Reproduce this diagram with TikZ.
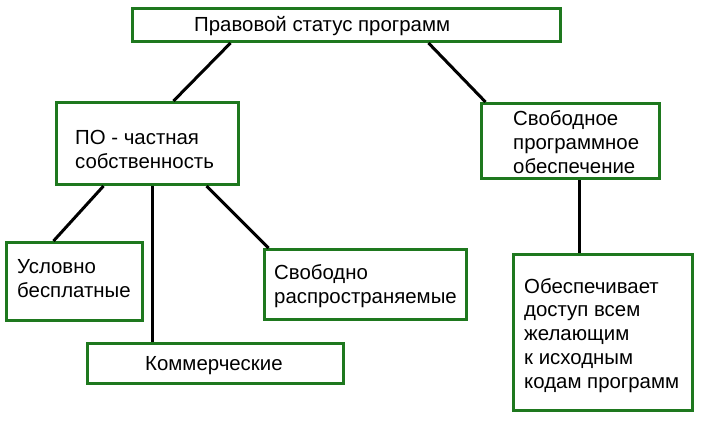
\documentclass[tikz,border=0pt]{standalone}
\usepackage{fontspec}
\setmainfont{Liberation Sans}
\usetikzlibrary{positioning}
\definecolor{boxgreen}{RGB}{30,120,30}

\begin{document}
\begin{tikzpicture}[x=1pt,y=-1pt]
\tikzstyle{every node}+=[inner sep=0pt]
\tikzstyle{frame}=[draw=boxgreen, line width=3pt, rectangle]
\tikzstyle{txt}=[anchor=base west, align=left, font=\fontsize{20.4}{23.7}\selectfont]
\tikzstyle{link}=[black, line width=3pt]
\useasboundingbox (0,0) rectangle (715,426);
% boxes
\node [frame, minimum width=428pt, minimum height=33pt] (status) at (346.5,25) {};
\node [frame, minimum width=182pt, minimum height=82pt] (chast) at (147.5,143.5) {};
\node [frame, minimum width=178pt, minimum height=75pt] (svob) at (570.5,141) {};
\node [frame, minimum width=136pt, minimum height=78pt] (uslov) at (74,281.5) {};
\node [frame, minimum width=202pt, minimum height=70pt] (rasp) at (365.5,284.5) {};
\node [frame, minimum width=256pt, minimum height=40pt] (komm) at (215.5,363.5) {};
\node [frame, minimum width=179pt, minimum height=156pt] (dostup) at (603,332.5) {};
% texts (base = last line)
\node [txt] (status-t) at (194,31) {Правовой статус программ};
\node [txt] (chast-t) at (75,168) {ПО - частная\\собственность};
\node [txt] (svob-t) at (513,173) {Свободное\\программное\\обеспечение};
\node [txt] (uslov-t) at (17,297) {Условно\\бесплатные};
\node [txt] (rasp-t) at (274,303) {Свободно\\распространяемые};
\node [txt] (komm-t) at (145,370) {Коммерческие};
\node [txt] (dostup-t) at (524,388) {Обеспечивает\\доступ всем\\желающим\\к исходным\\кодам программ};
% links
\draw [link] ([xshift=99.5pt]status.south west) -- ([xshift=118.5pt]chast.north west);
\draw [link] ([xshift=297.5pt]status.south west) -- ([xshift=5.5pt]svob.north west);
\draw [link] ([xshift=48.5pt]chast.south west) -- ([xshift=49pt]uslov.north west);
\draw [link] ([xshift=97.5pt]chast.south west) -- ([xshift=66.5pt]komm.north west);
\draw [link] ([xshift=151.5pt]chast.south west) -- ([xshift=5.5pt]rasp.north west);
\draw [link] ([xshift=99.5pt]svob.south west) -- ([xshift=67.5pt]dostup.north west);
\end{tikzpicture}
\end{document}
